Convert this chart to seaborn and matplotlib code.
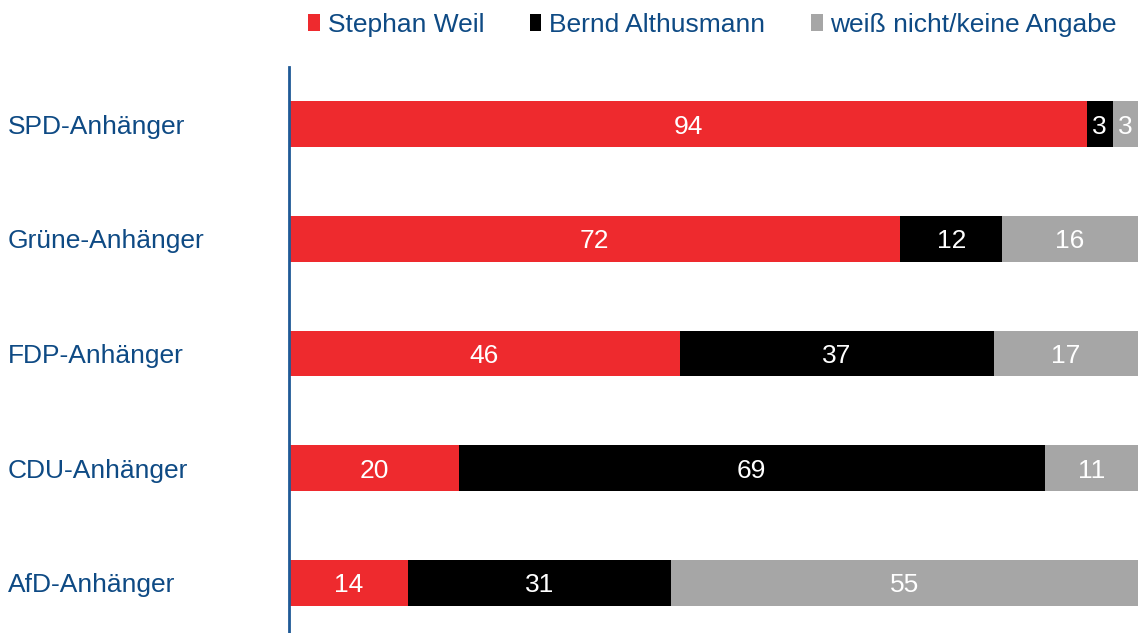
import matplotlib
matplotlib.use("Agg")
import matplotlib.pyplot as plt
from matplotlib.patches import Patch
from matplotlib import font_manager as fm
import seaborn as sns
import pandas as pd
import numpy as np

categories = ["SPD-Anhänger", "Grüne-Anhänger", "FDP-Anhänger", "CDU-Anhänger", "AfD-Anhänger"]
series_names = ["Stephan Weil", "Bernd Althusmann", "weiß nicht/keine Angabe"]
weil = [94, 72, 46, 20, 14]
althusmann = [3, 12, 37, 69, 31]
weissnicht = [3, 16, 17, 11, 55]
colors = ["#EE2A2E", "#000000", "#A6A6A6"]
text_blue = "#0E4A84"
axis_blue = "#1F5A96"

sns.set_style("white")

cands = [f.fname for f in fm.fontManager.ttflist if "liberationsans-regular" in f.fname.lower()]
fprops = fm.FontProperties(fname=cands[0]) if cands else fm.FontProperties(family="DejaVu Sans")
plt.rcParams["font.family"] = ["Liberation Sans", "DejaVu Sans"]

FS = 19

w = np.array(weil)
a = np.array(althusmann)
g = np.array(weissnicht)
c1 = w
c2 = w + a
c3 = w + a + g

fig = plt.figure(figsize=(11.38, 6.33), dpi=100)
ax = fig.add_axes([289 / 1138, 0.0, 1 - 289 / 1138, 1 - 67 / 633])

for cum, col in zip([c3, c2, c1], [colors[2], colors[1], colors[0]]):
    df = pd.DataFrame({"cat": categories, "val": cum})
    sns.barplot(data=df, x="val", y="cat", orient="h", color=col, width=0.4,
                saturation=1, ax=ax, linewidth=0)

starts = [np.zeros(len(w)), c1, c2]
for vals, st in zip([w, a, g], starts):
    for i, (v, s) in enumerate(zip(vals, st)):
        t = ax.text(s + v / 2, i, str(v), color="white", ha="center", va="center_baseline")
        t.set_fontproperties(fprops)
        t.set_fontsize(FS)

ax.set_xlim(0, 100)
ax.set_ylim(4.44, -0.5)
ax.set_xlabel("")
ax.set_ylabel("")
ax.set_xticks([])
ax.tick_params(axis="y", length=0, pad=0)
ax.set_yticklabels([])
tr = matplotlib.transforms.blended_transform_factory(fig.transFigure, ax.transData)
for i, cat in enumerate(categories):
    t = ax.text(8 / 1138, i, cat, transform=tr, color=text_blue, ha="left", va="center_baseline")
    t.set_fontproperties(fprops)
    t.set_fontsize(FS)

for side in ["top", "right", "bottom"]:
    ax.spines[side].set_visible(False)
ax.spines["left"].set_color(axis_blue)
ax.spines["left"].set_linewidth(2)

handles = [Patch(facecolor=c, edgecolor="none") for c in colors]
lp = fprops.copy()
lp.set_size(FS)
leg = fig.legend(handles, series_names, loc="center right", bbox_to_anchor=(1117 / 1138, 1 - 25 / 633),
                 ncol=3, frameon=False, prop=lp, handlelength=0.45, handleheight=0.6,
                 handletextpad=0.3, columnspacing=1.72, borderaxespad=0, borderpad=0)
for t in leg.get_texts():
    t.set_color(text_blue)

fig.savefig("out.png", dpi=100)
